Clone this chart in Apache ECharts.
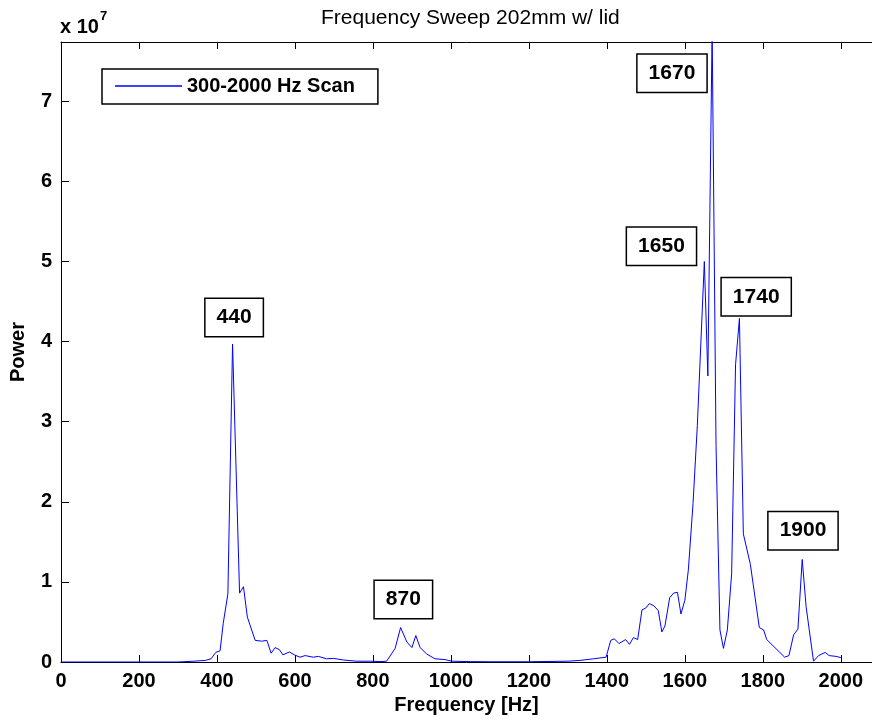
<!DOCTYPE html>
<html>
<head>
<meta charset="utf-8">
<script src="https://cdn.jsdelivr.net/npm/echarts@6/dist/echarts.min.js"></script>
<style>html,body{margin:0;padding:0;background:#fff;}#c{width:872px;height:722px;}</style>
</head>
<body>
<div id="c"></div>
<script>
// Frequency [Hz]
const freq = [0,300,340,370,385,397,408,416,428,440,458,468,478,498,515,528,539,549,560,569,586,598,613,626,647,660,681,699,724,758,793,818,835,857,871,887,900,910,921,938,959,985,1002,1050,1100,1200,1300,1331,1366,1398,1410,1419,1431,1448,1458,1468,1479,1490,1500,1509,1521,1532,1541,1549,1561,1571,1581,1590,1600,1609,1621,1632,1650,1659,1670,1680,1690,1699,1709,1720,1730,1740,1750,1768,1791,1802,1810,1856,1867,1879,1890,1901,1911,1930,1943,1960,1970,1988,2000];
// Power, in units of 10^7
const power = [0,0,0.01,0.02,0.04,0.12,0.14,0.48,0.85,3.97,0.86,0.94,0.56,0.27,0.26,0.27,0.11,0.18,0.155,0.09,0.125,0.09,0.06,0.08,0.06,0.07,0.04,0.045,0.025,0.01,0.01,0.005,0.01,0.17,0.43,0.25,0.18,0.33,0.18,0.10,0.04,0.03,0.01,0.005,0.003,0.003,0.01,0.02,0.04,0.06,0.27,0.29,0.23,0.28,0.22,0.305,0.28,0.65,0.675,0.73,0.70,0.64,0.375,0.45,0.80,0.86,0.87,0.60,0.77,1.15,1.98,2.95,5.0,3.57,7.9,2.7,0.4,0.17,0.40,1.1,3.71,4.29,1.6,1.22,0.43,0.40,0.28,0.06,0.08,0.34,0.41,1.28,0.69,0.01,0.08,0.12,0.08,0.07,0.055];
// Peak annotations: text, anchor frequency, anchor power (10^7)
const annText = ['440','870','1670','1650','1740','1900'];
const annFreq = [444,878,1567,1540,1783,1903];
const annPow  = [4.30,0.78,7.35,5.19,4.56,1.64];
const xTicks = [0,200,400,600,800,1000,1200,1400,1600,1800,2000];
const yTicks = [0,1,2,3,4,5,6,7];

const FONT = 'Arial, "Liberation Sans", Helvetica, sans-serif';
const chart = echarts.init(document.getElementById('c'), null, {renderer:'canvas'});
const lineData = freq.map((f,i)=>[f, power[i]]);
const annData = annText.map((t,i)=>[annFreq[i], annPow[i], t]);

chart.setOption({
  animation:false,
  backgroundColor:'#fff',
  title:{text:'Frequency Sweep 202mm w/ lid', left:316, top:3,
    textStyle:{fontFamily:FONT, fontSize:21, fontWeight:'normal', color:'#000'}},
  grid:{left:61, top:42, bottom:60, right:0, show:false},
  legend:{data:[{name:'300-2000 Hz Scan', icon:'rect'}], left:102, top:69, orient:'horizontal',
    borderColor:'#000', borderWidth:1.5, backgroundColor:'#fff', padding:[7,23,8,13],
    itemWidth:67, itemHeight:1.5,
    itemStyle:{color:'#0000ff'},
    textStyle:{fontFamily:FONT, fontSize:20, fontWeight:'bold', color:'#000'}},
  xAxis:[{type:'value', min:0, max:2080, interval:200, position:'bottom',
    name:'Frequency [Hz]', nameLocation:'middle', nameGap:32,
    nameTextStyle:{fontFamily:FONT, fontSize:20, fontWeight:'bold', color:'#000'},
    axisLine:{show:true, onZero:false, lineStyle:{color:'#000', width:1}},
    axisTick:{show:true, inside:true, length:7, lineStyle:{color:'#000'}, customValues:xTicks},
    axisLabel:{fontFamily:FONT, fontSize:20, fontWeight:'bold', color:'#000', margin:9,
      customValues:xTicks, formatter:v=> xTicks.indexOf(v)>=0 ? String(v) : ''},
    splitLine:{show:false}},
   {type:'value', min:0, max:2080, interval:200, position:'top',
    axisLine:{show:true, onZero:false, lineStyle:{color:'#000', width:1}},
    axisTick:{show:true, inside:true, length:7, lineStyle:{color:'#000'}, customValues:xTicks},
    axisLabel:{show:false}, splitLine:{show:false}}],
  yAxis:{type:'value', min:0, max:7.74, interval:1,
    name:'Power', nameLocation:'middle', nameGap:33, nameRotate:90,
    nameTextStyle:{fontFamily:FONT, fontSize:20, fontWeight:'bold', color:'#000'},
    axisLine:{show:true, onZero:false, lineStyle:{color:'#000', width:1}},
    axisTick:{show:true, inside:true, length:8, lineStyle:{color:'#000'}, customValues:yTicks},
    axisLabel:{fontFamily:FONT, fontSize:20, fontWeight:'bold', color:'#000', margin:9,
      customValues:yTicks, formatter:v=> yTicks.indexOf(v)>=0 ? String(v) : ''},
    splitLine:{show:false}},
  graphic:[
    {type:'text', left:60, top:17, style:{text:'x 10', font:'bold 20px '+FONT, fill:'#000'}},
    {type:'text', left:100, top:10, style:{text:'7', font:'bold 13px '+FONT, fill:'#000'}}
  ],
  series:[
    {name:'300-2000 Hz Scan', type:'line', data:lineData, symbol:'none', showSymbol:false,
     lineStyle:{color:'#0000ff', width:1}, itemStyle:{color:'#0000ff'}, clip:true, z:3},
    {name:'annotations', type:'scatter', data:annData, symbolSize:0, silent:true, z:5,
     itemStyle:{opacity:1},
     label:{show:true, position:'inside', formatter:p=>p.data[2], opacity:1,
       fontFamily:FONT, fontSize:21, fontWeight:'bold', color:'#000', lineHeight:21,
       backgroundColor:'#fff', borderColor:'#000', borderWidth:1.5, padding:[8,11,8,11]}}
  ]
});
</script>
</body>
</html>
